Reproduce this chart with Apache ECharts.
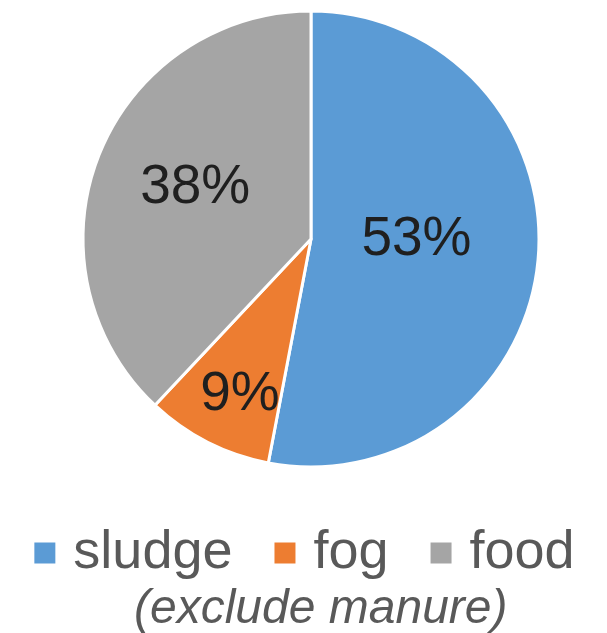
<!DOCTYPE html>
<html>
<head>
<meta charset="utf-8">
<script src="https://cdn.jsdelivr.net/npm/echarts@6/dist/echarts.min.js"></script>
<style>
  html, body { margin: 0; padding: 0; background: #ffffff; }
  #chart { width: 607px; height: 633px; }
</style>
</head>
<body>
<div id="chart"></div>
<script>
// Feedstock share (percent), manure excluded
const categories = ['sludge', 'fog', 'food'];
const shares = [53, 9, 38];
const colors = ['#5B9BD5', '#ED7D31', '#A5A5A5'];
const subtitle = '(exclude manure)';

// Small nudges that move each percentage label within its slice
const labelNudges = [[-11, -10], [-18, 52], [-7, -8]];

const chart = echarts.init(document.getElementById('chart'), null, { renderer: 'canvas' });

chart.setOption({
  animation: false,
  color: colors,
  textStyle: { fontFamily: '"Liberation Sans", Arial, sans-serif' },
  title: {
    text: subtitle,
    left: 134,
    top: 586,
    padding: 0,
    textStyle: {
      fontFamily: '"Liberation Sans", Arial, sans-serif',
      fontStyle: 'italic',
      fontWeight: 'normal',
      fontSize: 48,
      color: '#595959'
    }
  },
  legend: {
    data: categories,
    left: 'center',
    top: 521,
    icon: 'rect',
    itemWidth: 23,
    itemHeight: 23,
    itemGap: 40,
    textStyle: {
      fontFamily: '"Liberation Sans", Arial, sans-serif',
      fontSize: 54,
      color: '#595959',
      padding: [0, 0, 0, 12]
    }
  },
  series: [{
    type: 'pie',
    center: [311, 239],
    radius: [0, 228],
    startAngle: 90,
    clockwise: true,
    data: categories.map((name, i) => ({ name, value: shares[i] })),
    itemStyle: { borderColor: '#ffffff', borderWidth: 3 },
    label: {
      show: true,
      position: 'inside',
      formatter: '{c}%',
      fontFamily: '"Liberation Sans", Arial, sans-serif',
      fontSize: 55,
      color: '#1f1f1f'
    },
    labelLine: { show: false },
    labelLayout: (params) => ({
      dx: labelNudges[params.dataIndex][0],
      dy: labelNudges[params.dataIndex][1]
    }),
    emphasis: { disabled: true }
  }]
});
</script>
</body>
</html>
